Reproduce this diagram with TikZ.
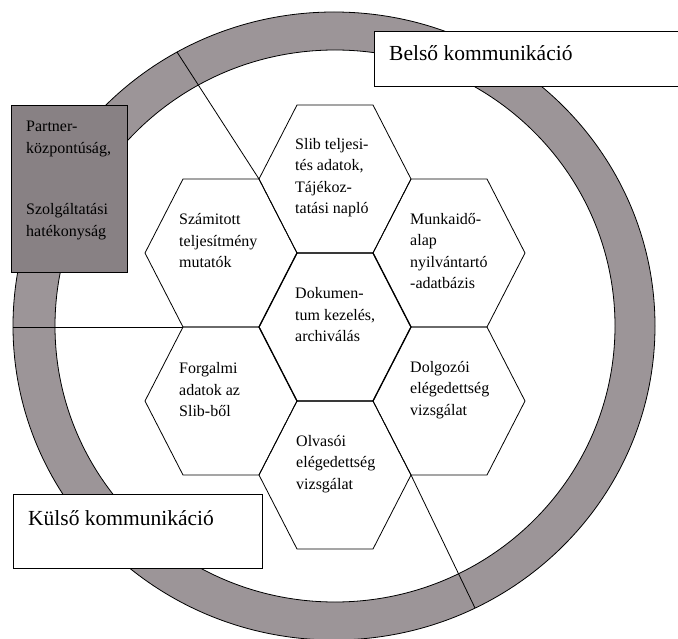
\documentclass[tikz,border=0pt]{standalone}
\usepackage{fontspec}
\setmainfont{Liberation Serif}
\definecolor{ringgray}{RGB}{156,149,152}
\definecolor{boxgray}{RGB}{136,129,132}
\tikzset{
  hexline/.style={draw=black, line width=0.8pt, line join=miter},
  hexbold/.style={draw=black, line width=1.3pt, line join=miter},
  hextext/.style={anchor=west, align=left, inner sep=0pt, font=\fontsize{16}{21.5}\selectfont},
  bigtext/.style={anchor=west, inner sep=0pt, font=\fontsize{21.5}{24}\selectfont},
  whitebox/.style={draw=black, fill=white, line width=1.1pt, anchor=north west, inner sep=0pt},
  divider/.style={draw=black, line width=0.8pt}
}
\newcommand{\hexcell}[2]{\path[#1, shift={#2}] (-76,0) -- (-38,-74) -- (38,-74) -- (76,0) -- (38,74) -- (-38,74) -- cycle;}
\begin{document}
\begin{tikzpicture}[x=1pt,y=-1pt]
\useasboundingbox (0,0) rectangle (678,639);
\clip (0,0) rectangle (678,639);
\fill[white] (0,0) rectangle (678,639);
% ring
\path[fill=ringgray, even odd rule, draw=black, line width=0.8pt]
  (334,326) ellipse [x radius=321, y radius=314]
  (335,326) ellipse [x radius=280, y radius=276];
% hexagons
\hexcell{hexline}{(335,179)}
\hexcell{hexline}{(335,475)}
\hexcell{hexline}{(221,253)}
\hexcell{hexline}{(221,401)}
\hexcell{hexline}{(449,253)}
\hexcell{hexline}{(449,401)}
\hexcell{hexbold}{(335,327)}
% divider coordinates
\coordinate (slibW) at (259,179);
\coordinate (ringA) at (177,52);
\coordinate (forgNW) at (183,327);
\coordinate (ringB) at (13,327);
\coordinate (olvE) at (411,475);
\coordinate (ringC) at (475,608);
\draw[divider] (ringA) -- (slibW);
\draw[divider] (ringB) -- (forgNW);
\draw[divider] (olvE) -- (ringC);
% hex texts
\node[hextext] (slib) at (295,177.5) {Slib teljesi-\\tés adatok,\\Tájékoz-\\tatási napló};
\node[hextext] (szamitott) at (179,241) {Számitott\\teljesítmény\\mutatók};
\node[hextext] (munkaido) at (410,251) {Munkaidő-\\alap\\nyilvántartó\\-adatbázis};
\node[hextext] (dokumentum) at (295,315) {Dokumen-\\tum kezelés,\\archiválás};
\node[hextext] (forgalmi) at (179,390) {Forgalmi\\adatok az\\Slib-ből};
\node[hextext] (dolgozoi) at (410,390) {Dolgozói\\elégedettség\\vizsgálat};
\node[hextext] (olvasoi) at (296,464) {Olvasói\\elégedettség\\vizsgálat};
% boxes
\node[whitebox, minimum width=320pt, minimum height=55pt] (belso) at (374,31) {};
\node[bigtext] (belsotext) at (389,53) {Belső kommunikáció};
\node[whitebox, minimum width=249pt, minimum height=74pt] (kulso) at (13,494) {};
\node[bigtext] (kulsotext) at (28,518) {Külső kommunikáció};
\node[whitebox, fill=boxgray, minimum width=116pt, minimum height=167pt] (partner) at (11,105) {};
\node[hextext, font=\fontsize{16}{22}\selectfont] (partnertext1) at (26,139) {Partner-\\központúság,};
\node[hextext, font=\fontsize{16}{22}\selectfont] (partnertext2) at (26,221.5) {Szolgáltatási\\hatékonyság};
\end{tikzpicture}
\end{document}
